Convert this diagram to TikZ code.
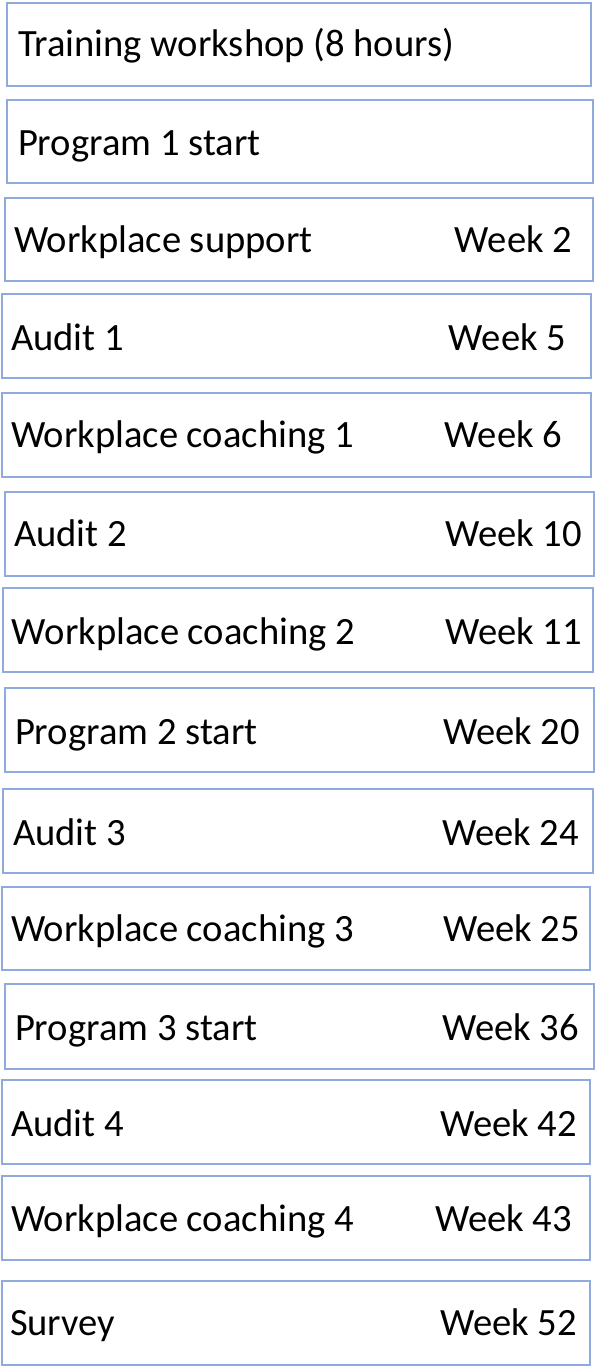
\documentclass[tikz,border=0pt]{standalone}
\usepackage{fontspec}
\setmainfont{Carlito}
\definecolor{boxblue}{RGB}{143,170,220}
\tikzset{
  tbox/.style={draw=boxblue, line width=1.6pt, rectangle, inner sep=0pt, outer sep=0pt, fill=none},
  lab/.style={inner sep=0pt, outer sep=0pt, font=\fontsize{38.6}{41}\selectfont, text=black},
}
\begin{document}
\begin{tikzpicture}[x=1pt,y=-1pt]
\useasboundingbox[fill=white] (0,0) rectangle (596,1368);
% boxes
\node[tbox, minimum width=584pt, minimum height=83pt] (b1) at (299,44.5) {};
\node[tbox, minimum width=586pt, minimum height=83pt] (b2) at (300,141.5) {};
\node[tbox, minimum width=588pt, minimum height=83pt] (b3) at (299,239.5) {};
\node[tbox, minimum width=589pt, minimum height=84pt] (b4) at (296.5,336) {};
\node[tbox, minimum width=589pt, minimum height=84pt] (b5) at (296.5,435) {};
\node[tbox, minimum width=589pt, minimum height=84pt] (b6) at (299.5,534) {};
\node[tbox, minimum width=590pt, minimum height=84pt] (b7) at (298,630) {};
\node[tbox, minimum width=589pt, minimum height=84pt] (b8) at (299.5,730) {};
\node[tbox, minimum width=590pt, minimum height=84pt] (b9) at (298,831) {};
\node[tbox, minimum width=588pt, minimum height=83pt] (b10) at (296,928.5) {};
\node[tbox, minimum width=589pt, minimum height=85pt] (b11) at (299.5,1026.5) {};
\node[tbox, minimum width=588pt, minimum height=84pt] (b12) at (296,1122) {};
\node[tbox, minimum width=588pt, minimum height=84pt] (b13) at (296,1218) {};
\node[tbox, minimum width=588pt, minimum height=84pt] (b14) at (296,1323) {};
% left labels
\node[lab, anchor=base west] (l1) at (18,56) {Training workshop (8 hours)};
\node[lab, anchor=base west] (l2) at (18,155) {Program 1 start};
\node[lab, anchor=base west] (l3) at (14,252) {Workplace support};
\node[lab, anchor=base west] (l4) at (11,350.5) {Audit 1};
\node[lab, anchor=base west] (l5) at (11,447) {Workplace coaching 1};
\node[lab, anchor=base west] (l6) at (14,546.5) {Audit 2};
\node[lab, anchor=base west] (l7) at (12,644) {Workplace coaching 2};
\node[lab, anchor=base west] (l8) at (15,744) {Program 2 start};
\node[lab, anchor=base west] (l9) at (13,845) {Audit 3};
\node[lab, anchor=base west] (l10) at (11,941.5) {Workplace coaching 3};
\node[lab, anchor=base west] (l11) at (15,1040) {Program 3 start};
\node[lab, anchor=base west] (l12) at (11,1136) {Audit 4};
\node[lab, anchor=base west] (l13) at (11,1231) {Workplace coaching 4};
\node[lab, anchor=base west] (l14) at (10,1335) {Survey};
% right labels
\node[lab, anchor=base east] (r3) at (572,252) {Week 2};
\node[lab, anchor=base east] (r4) at (566,350.5) {Week 5};
\node[lab, anchor=base east] (r5) at (562,447) {Week 6};
\node[lab, anchor=base east] (r6) at (582,546.5) {Week 10};
\node[lab, anchor=base east] (r7) at (582,644) {Week 11};
\node[lab, anchor=base east] (r8) at (580,744) {Week 20};
\node[lab, anchor=base east] (r9) at (579,845) {Week 24};
\node[lab, anchor=base east] (r10) at (580,941.5) {Week 25};
\node[lab, anchor=base east] (r11) at (579,1040) {Week 36};
\node[lab, anchor=base east] (r12) at (577,1136) {Week 42};
\node[lab, anchor=base east] (r13) at (572,1231) {Week 43};
\node[lab, anchor=base east] (r14) at (577,1335) {Week 52};
\end{tikzpicture}
\end{document}
